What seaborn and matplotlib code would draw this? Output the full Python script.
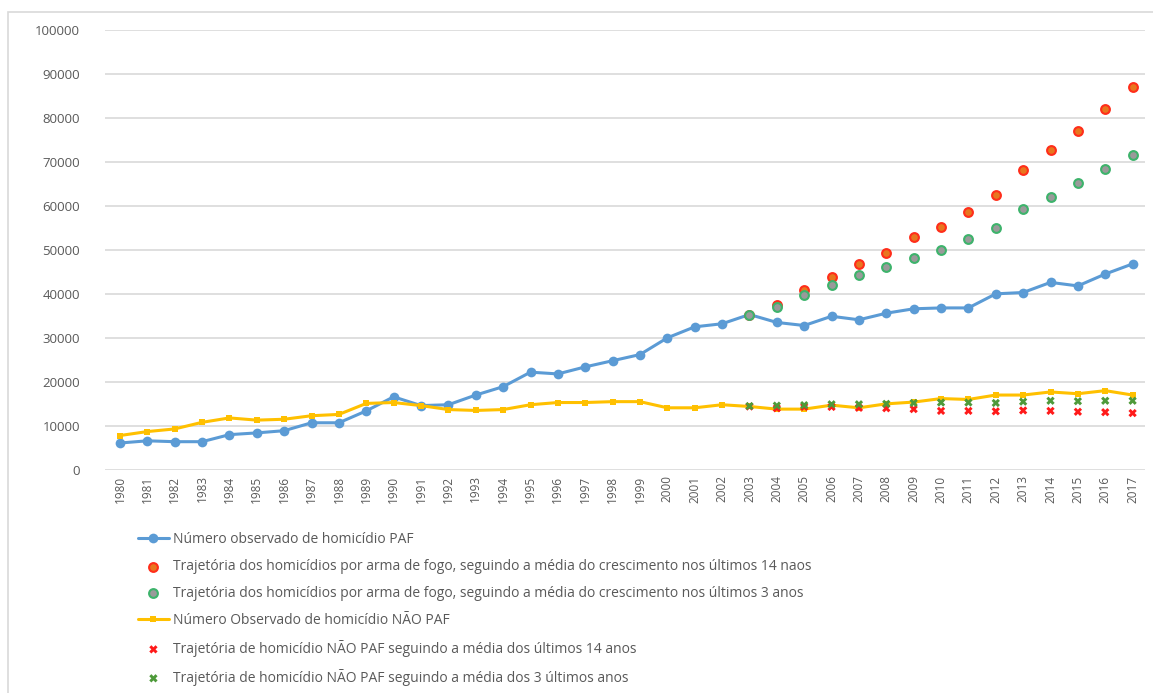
import matplotlib.pyplot as plt
import matplotlib.patches as mpatches
import numpy as np
import pandas as pd
import seaborn as sns

sns.set_theme(style="white")
plt.rcParams["font.family"] = ["Open Sans", "DejaVu Sans"]

# Observed series, 1980-2017
years = list(range(1980, 2018))
paf_observed = [
    6100, 6600, 6400, 6400, 8000, 8400, 8900, 10700, 10700, 13400,
    16600, 14600, 14800, 17000, 18900, 22200, 21800, 23400, 24800, 26200,
    30000, 32500, 33200, 35300, 33500, 32800, 34900, 34100, 35600, 36600,
    36800, 36800, 40000, 40300, 42600, 41800, 44500, 46800,
]
nao_paf_observed = [
    7800, 8700, 9300, 10800, 11800, 11300, 11500, 12300, 12600, 15100,
    15300, 14600, 13700, 13500, 13700, 14800, 15300, 15300, 15500, 15500,
    14100, 14100, 14800, 14400, 13800, 13800, 14700, 14100, 15000, 15400,
    16200, 16000, 17000, 17000, 17700, 17300, 18000, 17000,
]

# Projected trajectories, 2003-2017
proj_years = list(range(2003, 2018))
paf_14 = [35300, 37500, 40900, 43800, 46800, 49300, 53000, 55200, 58600,
          62500, 68200, 72700, 77000, 82000, 87000]
paf_3 = [35300, 37100, 39800, 42000, 44300, 46100, 48200, 50000, 52500,
         55000, 59300, 62000, 65200, 68400, 71600]
nao_14 = [14400, 14000, 14300, 14300, 14100, 14000, 13800, 13400, 13400,
          13300, 13500, 13400, 13200, 13100, 12900]
nao_3 = [14500, 14600, 14700, 14900, 14900, 15000, 15200, 15300, 15300,
         15200, 15500, 15700, 15600, 15700, 15700]

labels = [
    "Número observado de homicídio PAF",
    "Trajetória dos homicídios por arma de fogo, seguindo a média do crescimento nos últimos 14 naos",
    "Trajetória dos homicídios por arma de fogo, seguindo a média do crescimento nos últimos 3 anos",
    "Número Observado de homicídio NÃO PAF",
    "Trajetória de homicídio NÃO PAF seguindo a média dos últimos 14 anos",
    "Trajetória de homicídio NÃO PAF seguindo a média dos 3 últimos anos",
]

obs = pd.DataFrame({"ano": years, "paf": paf_observed, "nao_paf": nao_paf_observed})
proj = pd.DataFrame({"ano": proj_years, "paf14": paf_14, "paf3": paf_3,
                     "nao14": nao_14, "nao3": nao_3})

fig = plt.figure(figsize=(11.53, 6.93), dpi=100)
ax = fig.add_axes([0.091, 0.322, 0.902, 0.635])

text_gray = "#595959"
blue = "#5B9BD5"
yellow = "#FFC000"

sns.lineplot(data=obs, x="ano", y="paf", ax=ax, color=blue, linewidth=2.2,
             marker="o", markersize=7, markeredgewidth=0, label=labels[0], zorder=3)
sns.scatterplot(data=proj, x="ano", y="paf14", ax=ax, marker="o", s=40,
                color="#E8761E", edgecolor="#FF2D1A", linewidth=1.5, label=labels[1], zorder=4)
sns.scatterplot(data=proj, x="ano", y="paf3", ax=ax, marker="o", s=40,
                color="#9A9A9A", edgecolor="#3DB36B", linewidth=1.5, label=labels[2], zorder=5)
sns.lineplot(data=obs, x="ano", y="nao_paf", ax=ax, color=yellow, linewidth=2.2,
             marker="s", markersize=4, markeredgewidth=0, label=labels[3], zorder=3)
sns.scatterplot(data=proj, x="ano", y="nao14", ax=ax, marker="X", s=36,
                color="#FF1A1A", edgecolor="none", label=labels[4], zorder=4)
sns.scatterplot(data=proj, x="ano", y="nao3", ax=ax, marker="X", s=36,
                color="#4E9A3A", edgecolor="none", label=labels[5], zorder=5)

ax.set_ylim(0, 100000)
ax.set_xlim(1979.45, 2017.45)
ax.set_yticks(np.arange(0, 100001, 10000))
ax.set_xticks(years)
ax.set_xticklabels([str(y) for y in years], rotation=90, fontsize=8.5, color=text_gray)
ax.tick_params(axis="y", labelsize=9.5, labelcolor=text_gray, length=0, pad=18)
ax.tick_params(axis="x", length=0, pad=4)
ax.yaxis.grid(True, color="#D9D9D9", linewidth=1.2)
ax.set_axisbelow(True)
ax.set_xlabel("")
ax.set_ylabel("")
for s in ax.spines.values():
    s.set_visible(False)

handles, labs = ax.get_legend_handles_labels()
ax.get_legend().remove()
fig.legend(handles, labs, loc="upper left", bbox_to_anchor=(0.115, 0.24),
           frameon=False, fontsize=10, labelcolor=text_gray, handlelength=2.2,
           labelspacing=0.86, handletextpad=0.3, borderaxespad=0)

# light outer frame as in the original screenshot
fig.patches.append(mpatches.Rectangle((0.007, -0.01), 1.0, 0.992, transform=fig.transFigure,
                                      fill=False, edgecolor="#D9D9D9", linewidth=1.2))

fig.savefig("out.png", dpi=100)
